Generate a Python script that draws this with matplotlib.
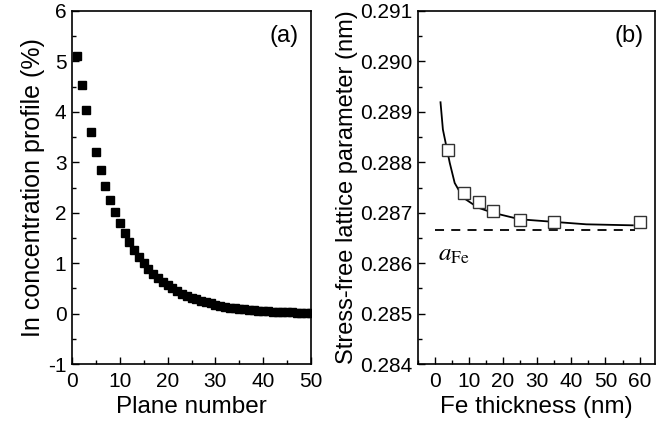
import numpy as np
import matplotlib.pyplot as plt
from matplotlib.ticker import MultipleLocator

plt.rcParams['font.family'] = ['Liberation Sans', 'DejaVu Sans']
plt.rcParams['mathtext.fontset'] = 'stix'
plt.rcParams['axes.unicode_minus'] = False

# (a) In concentration profile vs plane number
planes = np.arange(1, 51)
conc = [5.10, 4.54, 4.04, 3.60, 3.20, 2.85, 2.53, 2.26, 2.01, 1.79,
        1.59, 1.42, 1.26, 1.12, 1.00, 0.89, 0.79, 0.70, 0.63, 0.56,
        0.50, 0.44, 0.39, 0.35, 0.31, 0.28, 0.25, 0.22, 0.20, 0.17,
        0.15, 0.14, 0.12, 0.11, 0.10, 0.09, 0.08, 0.07, 0.06, 0.05,
        0.05, 0.04, 0.04, 0.03, 0.03, 0.03, 0.02, 0.02, 0.02, 0.02]

# (b) stress-free lattice parameter vs Fe thickness
thick = [4, 8.5, 13, 17, 25, 35, 60]
latt = [0.28824, 0.28740, 0.28721, 0.28703, 0.28686, 0.28681, 0.28682]
fit_x = [1.7, 2.4, 3.4, 4.4, 5.85, 8.3, 12.7, 17.0, 24.9, 34.6, 44.4, 58.0]
fit_y = [0.28919, 0.28865, 0.28832, 0.28799, 0.28759, 0.28730, 0.28710,
         0.28700, 0.28687, 0.28682, 0.28677, 0.28675]
a_fe = 0.28665

fig = plt.figure(figsize=(6.65, 4.26), dpi=100)
ax1 = fig.add_axes([0.1083, 0.1455, 0.3594, 0.8287])
ax2 = fig.add_axes([0.628, 0.1455, 0.357, 0.8287])

# panel a
ax1.plot(planes, conc, 's', color='black', markersize=5.5, linestyle='none')
ax1.set_xlim(0, 50)
ax1.set_ylim(-1, 6)
ax1.xaxis.set_major_locator(MultipleLocator(10))
ax1.xaxis.set_minor_locator(MultipleLocator(5))
ax1.yaxis.set_major_locator(MultipleLocator(1))
ax1.yaxis.set_minor_locator(MultipleLocator(0.5))
ax1.set_xlabel('Plane number', fontsize=17.5, labelpad=3)
ax1.set_ylabel('In concentration profile (%)', fontsize=18, labelpad=2)
ax1.text(0.95, 0.96, '(a)', transform=ax1.transAxes, ha='right', va='top', fontsize=17)

# panel b
ax2.plot(fit_x, fit_y, '-', color='black', linewidth=1.3)
ax2.plot([0, 58.5], [a_fe, a_fe], '--', color='black', linewidth=1.3, dashes=(5, 4))
ax2.plot(thick, latt, 's', markerfacecolor='white', markeredgecolor='#333333',
         markeredgewidth=1.0, markersize=9, linestyle='none')
ax2.text(1, 0.28604, r'$a_{\mathrm{Fe}}$', fontsize=18)
ax2.set_xlim(-5, 64.5)
ax2.set_ylim(0.284, 0.291)
ax2.xaxis.set_major_locator(MultipleLocator(10))
ax2.xaxis.set_minor_locator(MultipleLocator(5))
ax2.yaxis.set_major_locator(MultipleLocator(0.001))
ax2.yaxis.set_minor_locator(MultipleLocator(0.0005))
ax2.yaxis.set_major_formatter(plt.FormatStrFormatter('%.3f'))
ax2.set_xlabel('Fe thickness (nm)', fontsize=17.5, labelpad=3)
ax2.set_ylabel('Stress-free lattice parameter (nm)', fontsize=17, labelpad=1)
ax2.text(0.95, 0.96, '(b)', transform=ax2.transAxes, ha='right', va='top', fontsize=17)

for ax in (ax1, ax2):
    ax.tick_params(which='both', direction='in', labelsize=15, width=1.0)
    ax.tick_params(which='major', length=5)
    ax.tick_params(which='minor', length=3)
    ax.tick_params(axis='x', pad=6)
    ax.tick_params(axis='y', pad=4)
    for s in ax.spines.values():
        s.set_linewidth(1.2)

fig.savefig('out.png', dpi=100)
